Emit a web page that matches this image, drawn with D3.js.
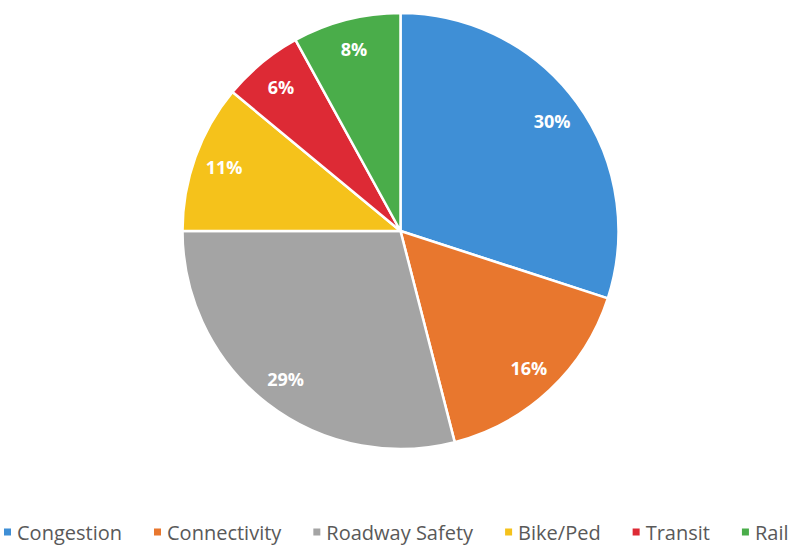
<!DOCTYPE html>
<html><head><meta charset="utf-8">
<script src="https://cdn.jsdelivr.net/npm/d3@7"></script>
<style>html,body{margin:0;padding:0;background:#fff;overflow:hidden}</style>
</head><body>
<svg id="chart" width="803" height="546"></svg>
<script>
const categories = ["Congestion","Connectivity","Roadway Safety","Bike/Ped","Transit","Rail"];
const values = [30,16,29,11,6,8];
const colors = ["#3f8fd6","#e8772e","#a4a4a4","#f5c21b","#dd2a35","#4aad4a"];

const svg = d3.select("#chart");
const cx = 400.5, cy = 231, R = 218;
const data = categories.map((c,i)=>({cat:c, value:values[i], color:colors[i]}));
const pie = d3.pie().value(d=>d.value).sort(null);
const arc = d3.arc().innerRadius(0).outerRadius(R);
const labelArc = d3.arc().innerRadius(R*0.86).outerRadius(R*0.86);
const g = svg.append("g").attr("transform",`translate(${cx},${cy})`);
const arcs = pie(data);
g.selectAll("path").data(arcs).join("path")
  .attr("d",arc).attr("fill",d=>d.data.color)
  .attr("stroke","#fff").attr("stroke-width",2.5).attr("stroke-linejoin","round");
g.selectAll("text").data(arcs).join("text")
  .attr("transform",d=>`translate(${labelArc.centroid(d)})`)
  .attr("text-anchor","middle").attr("dominant-baseline","central")
  .attr("font-family","'Open Sans', sans-serif").attr("font-weight","bold")
  .attr("font-size",18).attr("fill","#fff")
  .text(d=>d.data.value+"%");

// legend
const lg = svg.append("g").attr("transform","translate(0,532)");
const gap = 32, marker = 7, mgap = 6;
let x = 4;
data.forEach(d=>{
  const item = lg.append("g").attr("transform",`translate(${x},0)`);
  item.append("rect").attr("x",0).attr("y",-marker/2).attr("width",marker).attr("height",marker).attr("fill",d.color);
  const t = item.append("text").attr("x",marker+mgap).attr("y",0)
    .attr("dominant-baseline","central")
    .attr("font-family","'Open Sans', sans-serif").attr("font-size",20).attr("fill","#595959")
    .text(d.cat);
  x += marker+mgap+t.node().getComputedTextLength()+gap;
});
</script>
</body></html>
